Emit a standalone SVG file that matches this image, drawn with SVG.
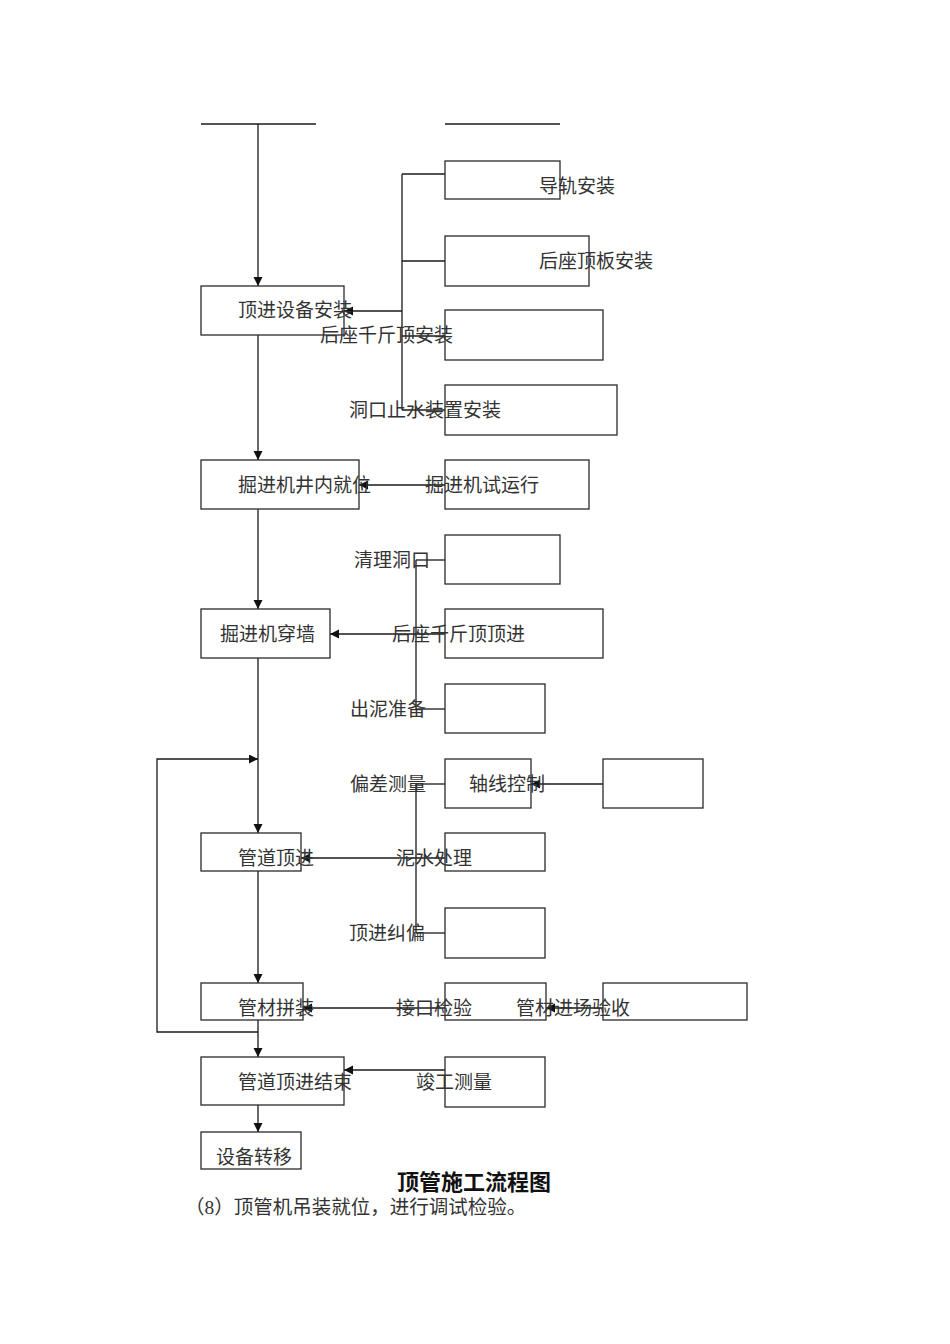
<svg xmlns="http://www.w3.org/2000/svg" width="950" height="1344" viewBox="0 0 950 1344">
<style>
rect.b{fill:none;stroke:#2a2a2a;stroke-width:1.3}
line,path.c{fill:none;stroke:#1a1a1a;stroke-width:1.3}
text{font-family:"Liberation Serif","Noto Sans CJK SC",serif;font-size:19px;fill:#333}
.a{marker-end:url(#ah)}
.title{font-family:"Noto Sans CJK SC",sans-serif;font-weight:bold;font-size:22px;fill:#111}
.note{font-size:19.5px}
</style>
<defs>
<marker id="ah" markerUnits="userSpaceOnUse" markerWidth="10" markerHeight="10" refX="9" refY="4.5" orient="auto">
<path d="M0,0 L9,4.5 L0,9 z" fill="#111"/>
</marker>
</defs>
<rect width="950" height="1344" fill="#fff"/>
<g id="connectors">
<line x1="201" y1="124" x2="316" y2="124"/>
<line x1="445" y1="124" x2="560" y2="124"/>
<line class="a" x1="258" y1="124" x2="258" y2="286"/>
<line x1="402" y1="174" x2="402" y2="410"/>
<line x1="402" y1="174" x2="445" y2="174"/>
<line x1="402" y1="261" x2="445" y2="261"/>
<line x1="402" y1="336" x2="445" y2="336"/>
<line x1="402" y1="410" x2="445" y2="410"/>
<line class="a" x1="402" y1="311" x2="344" y2="311"/>
<line class="a" x1="258" y1="335" x2="258" y2="460"/>
<line class="a" x1="445" y1="485" x2="359" y2="485"/>
<line class="a" x1="258" y1="509" x2="258" y2="609"/>
<line x1="416" y1="560" x2="416" y2="709"/>
<line x1="416" y1="560" x2="445" y2="560"/>
<line x1="416" y1="709" x2="445" y2="709"/>
<line class="a" x1="445" y1="634" x2="330" y2="634"/>
<line class="a" x1="258" y1="658" x2="258" y2="833"/>
<path class="c a" d="M258,1032 H157 V759 H258"/>
<line x1="416" y1="784" x2="416" y2="933"/>
<line x1="416" y1="784" x2="445" y2="784"/>
<line x1="416" y1="933" x2="445" y2="933"/>
<line class="a" x1="445" y1="858" x2="301" y2="858"/>
<line class="a" x1="603" y1="784" x2="531" y2="784"/>
<line class="a" x1="258" y1="871" x2="258" y2="983"/>
<line class="a" x1="445" y1="1008" x2="303" y2="1008"/>
<line class="a" x1="603" y1="1008" x2="546" y2="1008"/>
<line class="a" x1="258" y1="1020" x2="258" y2="1057"/>
<line class="a" x1="445" y1="1070" x2="344" y2="1070"/>
<line class="a" x1="258" y1="1105" x2="258" y2="1132"/>
</g>
<g id="n-daogui"><rect class="b" x="445" y="161" width="115" height="38"/><text x="539" y="193">导轨安装</text></g>
<g id="n-houzuodingban"><rect class="b" x="445" y="236" width="144" height="50"/><text x="539" y="268">后座顶板安装</text></g>
<g id="n-dingjinshebei"><rect class="b" x="201" y="286" width="143" height="49"/><text x="238" y="317">顶进设备安装</text></g>
<g id="n-qianjinding"><rect class="b" x="445" y="310" width="158" height="50"/><text x="320" y="342">后座千斤顶安装</text></g>
<g id="n-dongkou"><rect class="b" x="445" y="385" width="172" height="50"/><text x="349" y="417">洞口止水装置安装</text></g>
<g id="n-jiuwei"><rect class="b" x="201" y="460" width="158" height="49"/><text x="238" y="492">掘进机井内就位</text></g>
<g id="n-shiyunxing"><rect class="b" x="445" y="460" width="144" height="49"/><text x="425" y="492">掘进机试运行</text></g>
<g id="n-qingli"><rect class="b" x="445" y="535" width="115" height="49"/><text x="354" y="567">清理洞口</text></g>
<g id="n-chuanqiang"><rect class="b" x="201" y="609" width="129" height="49"/><text x="220" y="641">掘进机穿墙</text></g>
<g id="n-dingjin1"><rect class="b" x="445" y="609" width="158" height="49"/><text x="392" y="641">后座千斤顶顶进</text></g>
<g id="n-chuni"><rect class="b" x="445" y="684" width="100" height="49"/><text x="350" y="716">出泥准备</text></g>
<g id="n-piancha"><text x="350" y="791">偏差测量</text></g>
<g id="n-zhouxian"><rect class="b" x="445" y="759" width="86" height="49"/><text x="469" y="791">轴线控制</text></g>
<g id="n-blank"><rect class="b" x="603" y="759" width="100" height="49"/></g>
<g id="n-guandao"><rect class="b" x="201" y="833" width="100" height="38"/><text x="238" y="865">管道顶进</text></g>
<g id="n-nishui"><rect class="b" x="445" y="833" width="100" height="38"/><text x="396" y="865">泥水处理</text></g>
<g id="n-jiupian"><rect class="b" x="445" y="908" width="100" height="50"/><text x="349" y="940">顶进纠偏</text></g>
<g id="n-pinzhuang"><rect class="b" x="201" y="983" width="102" height="37"/><text x="238" y="1015">管材拼装</text></g>
<g id="n-jiekou"><rect class="b" x="445" y="983" width="101" height="37"/><text x="396" y="1015">接口检验</text></g>
<g id="n-jinchang"><rect class="b" x="603" y="983" width="144" height="37"/><text x="516" y="1015">管材进场验收</text></g>
<g id="n-jieshu"><rect class="b" x="201" y="1057" width="143" height="48"/><text x="238" y="1089">管道顶进结束</text></g>
<g id="n-jungong"><rect class="b" x="445" y="1057" width="100" height="50"/><text x="416" y="1089">竣工测量</text></g>
<g id="n-zhuanyi"><rect class="b" x="201" y="1132" width="100" height="37"/><text x="216" y="1164">设备转移</text></g>
<text class="title" x="397" y="1190">顶管施工流程图</text>
<text class="note" x="185" y="1214">（8）顶管机吊装就位，进行调试检验。</text>
</svg>
